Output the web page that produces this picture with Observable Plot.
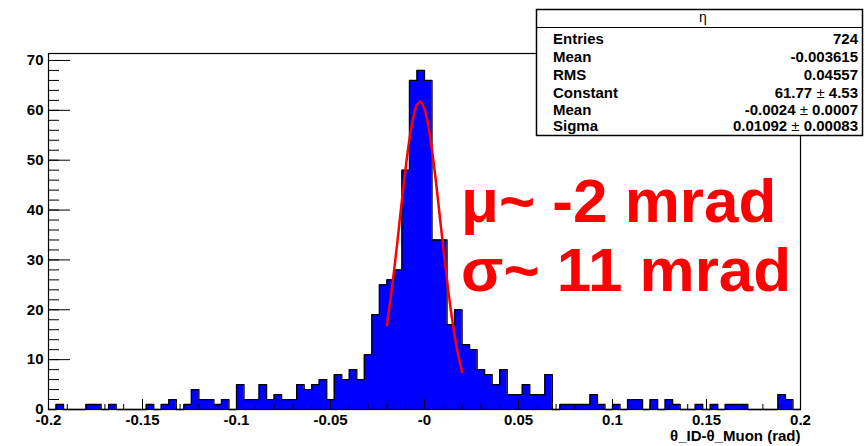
<!DOCTYPE html>
<html>
<head>
<meta charset="utf-8">
<script src="https://cdn.jsdelivr.net/npm/d3@7"></script>
<script src="https://cdn.jsdelivr.net/npm/@observablehq/plot@0.6"></script>
<style>
  html, body { margin: 0; padding: 0; background: #fff; }
  #wrap { position: relative; width: 865px; height: 446px; }
  #overlay { position: absolute; left: 0; top: 0; pointer-events: none; }
  text { font-family: "Liberation Sans", Arial, Helvetica, sans-serif; }
</style>
</head>
<body>
<div id="wrap"></div>
<script>
// ---- data ----
const histLow = -0.2;
const histHigh = 0.2;
const binWidth = 0.004;
const counts = [
  0,1,0,0,0,1,1,0,1,0,
  0,0,0,1,0,1,2,0,1,4,
  2,2,1,2,0,5,2,2,5,2,
  3,2,2,5,4,5,6,2,7,6,
  8,6,11,19,25,26,28,48,66,68,
  66,34,34,17,20,13,12,8,7,5,
  8,3,3,5,3,3,7,0,1,1,
  1,1,3,1,0,1,0,2,2,0,
  2,0,2,1,0,0,1,0,1,0,
  1,1,1,0,0,0,0,3,2,0
];
// Gaussian fit curve as drawn (red)
const fitX = [-0.020,-0.018,-0.016,-0.014,-0.012,-0.010,-0.008,-0.006,-0.004,-0.002,0.000,0.002,0.004,0.006,0.008,0.010,0.012,0.014,0.016,0.018,0.020];
const fitY = [16.9,22.3,28.4,35.1,42.0,48.5,54.2,58.5,61.1,61.7,60.3,56.9,52.0,46.0,39.2,32.4,25.9,20.0,14.9,10.8,7.5];

const xTicks = [-0.2,-0.15,-0.1,-0.05,0,0.05,0.1,0.15,0.2];
const xTickLabels = ["-0.2","-0.15","-0.1","-0.05","-0","0.05","0.1","0.15","0.2"];
const xMinorTicks = d3.range(-20, 21).map(k => k / 100);
const yTicks = [0,10,20,30,40,50,60,70];
const yMinorTicks = d3.range(0, 72, 2);
const yMax = 71.4;
const xTitle = "θ_ID-θ_Muon (rad)";

const statsTitle = "η";
const statsLabels = ["Entries","Mean","RMS","Constant","Mean","Sigma"];
const statsValues = [["724"],["-0.003615"],["0.04557"],["61.77","4.53"],["-0.0024","0.0007"],["0.01092","0.00083"]];
const noteLines = ["μ~ -2 mrad", "σ~ 11 mrad"];

// ---- derived tables ----
const outline = counts.map((c, i) => ({x: histLow + i * binWidth, y: c}));
outline.push({x: histHigh, y: counts[counts.length - 1]});
const fit = fitX.map((x, i) => ({x, y: fitY[i]}));

const chart = Plot.plot({
  width: 865,
  height: 446,
  marginLeft: 48,
  marginRight: 65,
  marginTop: 53,
  marginBottom: 37,
  x: {domain: [histLow, histHigh], label: null},
  y: {domain: [0, yMax], label: null},
  style: {fontFamily: "'Liberation Sans', Arial, sans-serif", fontSize: "15px", fontWeight: "bold", color: "#000", background: "#fff"},
  marks: [
    Plot.areaY(outline, {x: "x", y: "y", curve: "step-after", fill: "#0000ff"}),
    Plot.line(outline, {x: "x", y: "y", curve: "step-after", stroke: "#000", strokeWidth: 1.3}),
    Plot.line(fit, {x: "x", y: "y", curve: "catmull-rom", stroke: "#ff0000", strokeWidth: 2.5}),
    Plot.frame({stroke: "#000", strokeWidth: 1.2}),
    Plot.axisX(xMinorTicks, {tickSize: -5, tickFormat: () => "", label: null, stroke: "#000"}),
    Plot.axisX(xTicks, {tickSize: -10, tickPadding: 15, tickFormat: d => xTickLabels[xTicks.indexOf(d)], label: null, stroke: "#000", fontSize: 15}),
    Plot.axisY(yMinorTicks, {tickSize: -11, tickFormat: () => "", label: null, stroke: "#000"}),
    Plot.axisY(yTicks, {tickSize: -22, tickPadding: 27, label: null, stroke: "#000", fontSize: 15}),
    Plot.text([xTitle], {frameAnchor: "bottom-right", dy: 31, text: d => d, textAnchor: "end", fontSize: 15, fontWeight: "bold", fill: "#000"})
  ]
});
document.getElementById("wrap").appendChild(chart);

// ---- overlay: stats box + annotation ----
const ov = d3.select("#wrap").append("svg")
  .attr("id", "overlay").attr("width", 865).attr("height", 446);

ov.append("rect").attr("x", 536.5).attr("y", 9.5).attr("width", 326).attr("height", 126)
  .attr("fill", "#fff").attr("stroke", "#000").attr("stroke-width", 1.5);
ov.append("line").attr("x1", 536.5).attr("x2", 862.5).attr("y1", 27.5).attr("y2", 27.5)
  .attr("stroke", "#000").attr("stroke-width", 1.2);
ov.append("text").attr("x", 703).attr("y", 22).attr("text-anchor", "middle")
  .attr("font-size", 14).text(statsTitle);

const rowBase = [43.5, 61.5, 79.5, 97.5, 115, 131];
statsLabels.forEach((lab, i) => {
  ov.append("text").attr("x", 553).attr("y", rowBase[i]).attr("font-size", 15)
    .attr("font-weight", "bold").text(lab);
  const t = ov.append("text").attr("x", 858).attr("y", rowBase[i]).attr("font-size", 15)
    .attr("font-weight", "bold").attr("text-anchor", "end");
  const v = statsValues[i];
  t.append("tspan").text(v[0]);
  if (v.length > 1) {
    t.append("tspan").attr("font-weight", "normal").text(" ± ");
    t.append("tspan").text(v[1]);
  }
});

const noteBase = [222, 291];
noteLines.forEach((s, i) => {
  ov.append("text").attr("x", 461).attr("y", noteBase[i]).attr("font-size", 62)
    .attr("font-weight", "bold").attr("fill", "#ff0000").text(s);
});
</script>
</body>
</html>
